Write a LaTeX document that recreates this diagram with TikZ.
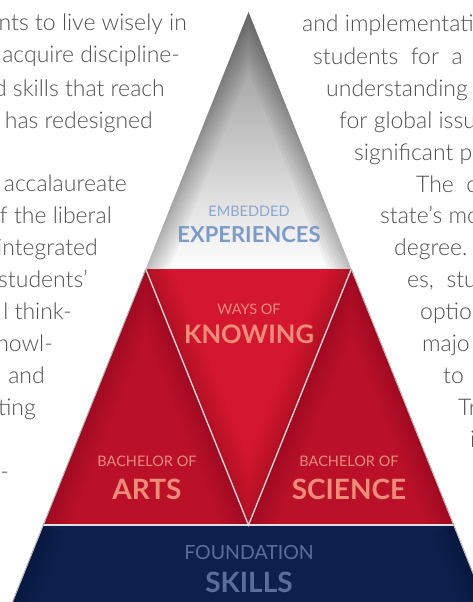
\documentclass[tikz,border=0pt]{standalone}
\usepackage{fontspec}
\setmainfont{Lato}
\newfontfamily\bodyfont{Lato Light}
\definecolor{bodytxt}{HTML}{505050}
\definecolor{knowred}{HTML}{D4172F}
\definecolor{sidered}{HTML}{BA1129}
\definecolor{shadowred}{HTML}{6A0412}
\definecolor{navy}{HTML}{0E1F4D}
\definecolor{navydark}{HTML}{061030}
\definecolor{salmon}{HTML}{EF8C79}
\definecolor{salmonlight}{HTML}{E98A7E}
\definecolor{skyblue}{HTML}{7D9BC8}
\definecolor{skybluelight}{HTML}{8CA7CF}
\definecolor{foundblue}{HTML}{5B6E9A}
\definecolor{seamgray}{HTML}{D2D2D2}
\tikzset{
  smalllabel/.style={font=\fontsize{14.5}{15}\selectfont, anchor=base, inner sep=0},
  biglabel/.style={font=\fontsize{28}{28}\selectfont\bfseries, anchor=base, inner sep=0},
  leftline/.style={font=\bodyfont\fontsize{23}{24}\selectfont, text=bodytxt, inner sep=0, anchor=base east},
  rightline/.style={font=\bodyfont\fontsize{23}{24}\selectfont, text=bodytxt, inner sep=0, anchor=base west},
  seam/.style={draw=seamgray, line width=1.4pt},
}
\begin{document}
\begin{tikzpicture}[x=1pt,y=-1pt]
\useasboundingbox (0,0) rectangle (473,602);
\clip (0,0) rectangle (473,602);
\fill[white] (0,0) rectangle (473,602);

% key points of the pyramid
\coordinate (apex) at (248.5,12);
\coordinate (tl) at (145.7,269);
\coordinate (tr) at (351.3,269);
\coordinate (ml) at (43.3,525);
\coordinate (mr) at (453.7,525);
\coordinate (vb) at (248.5,525);
\coordinate (bl) at (11.3,605);
\coordinate (br) at (485.7,605);

% top (embedded experiences) triangle
\shade[top color=black!45, bottom color=white] (apex) -- (tr) -- (tl) -- cycle;
\begin{scope}
  \clip (apex) -- (tr) -- (tl) -- cycle;
  \foreach \w in {44,38,32,26,20,14,9,4}
    \draw[black, opacity=0.035, line width=\w pt, line join=round] (tl) -- (apex) -- (tr);
\end{scope}

% knowing (inverted) triangle
\fill[knowred] (tl) -- (tr) -- (vb) -- cycle;
\begin{scope}
  \clip (tl) -- (tr) -- (vb) -- cycle;
  \foreach \w in {48,40,32,25,18,12,7,3}
    \draw[shadowred, opacity=0.045, line width=\w pt, line join=round] (tr) -- (vb) -- (tl);
\end{scope}

% arts triangle
\fill[sidered] (tl) -- (vb) -- (ml) -- cycle;
\begin{scope}
  \clip (tl) -- (vb) -- (ml) -- cycle;
  \foreach \w in {48,40,32,25,18,12,7,3}
    \draw[shadowred, opacity=0.045, line width=\w pt, line join=round] (ml) -- (tl) -- (vb);
\end{scope}

% science triangle
\fill[sidered] (tr) -- (mr) -- (vb) -- cycle;
\begin{scope}
  \clip (tr) -- (mr) -- (vb) -- cycle;
  \foreach \w in {48,40,32,25,18,12,7,3}
    \draw[shadowred, opacity=0.045, line width=\w pt, line join=round] (vb) -- (tr) -- (mr);
\end{scope}

% foundation band
\fill[navy] (ml) -- (mr) -- (br) -- (bl) -- cycle;
\begin{scope}
  \clip (ml) -- (mr) -- (br) -- (bl) -- cycle;
  \foreach \w in {48,40,32,25,18,12,7,3}
    \draw[navydark, opacity=0.05, line width=\w pt] (bl) -- (ml) (mr) -- (br);
\end{scope}

% seams
\draw[seam] (tl) -- (vb) -- (tr);
\draw[draw=white!88!black, line width=2.4pt] (ml) -- (mr);
\draw[draw=black!28, line width=1.1pt] (tl) -- (bl);
\draw[draw=black!28, line width=1.1pt] (tr) -- (br);

% labels
\node[smalllabel, text=skybluelight] (embedded) at (249,216) {EMBEDDED};
\node[biglabel, text=skyblue, font=\fontsize{22}{22}\selectfont\bfseries] (experiences) at (249,242) {EXPERIENCES};
\node[smalllabel, text=salmonlight] (waysof) at (249,314) {WAYS OF};
\node[biglabel, text=salmon, font=\fontsize{25.5}{26}\selectfont\bfseries] (knowing) at (249,343) {KNOWING};
\node[smalllabel, text=salmonlight] (bacharts) at (147,466) {BACHELOR OF};
\node[biglabel, text=salmon] (arts) at (147,499) {ARTS};
\node[smalllabel, text=salmonlight] (bachsci) at (349,466) {BACHELOR OF};
\node[biglabel, text=salmon] (science) at (349,499) {SCIENCE};
\node[smalllabel, text=foundblue, font=\fontsize{19.5}{20}\selectfont] (foundation) at (249,559) {FOUNDATION};
\node[biglabel, text=foundblue] (skills) at (249,592) {SKILLS};

% left column of text
\node[leftline] (l1) at (187,31) {nts to live wisely in};
\node[leftline] (l2) at (180,63) {acquire discipline-};
\node[leftline] (l3) at (165,96) {d skills that reach};
\node[leftline] (l4) at (153,128) {has redesigned};
\node[leftline] (l5) at (127,191) {accalaureate};
\node[leftline] (l6) at (112,223) {of the liberal};
\node[leftline] (l7) at (98,255) {integrated};
\node[leftline] (l8) at (88,287) {students’};
\node[leftline] (l9) at (72,319) {l think-};
\node[leftline] (l10) at (53,351) {knowl-};
\node[leftline] (l11) at (45,383) {and};
\node[leftline] (l12) at (36,415) {ting};
\node[leftline] (l13) at (9,479) {-};

% right column of text
\node[rightline] (r1) at (302,32) {and implementati};
\node[rightline] (r2) at (313,64) {students\ \ for\ \ a};
\node[rightline] (r3) at (326,96) {understanding};
\node[rightline] (r4) at (339,128) {for global issu};
\node[rightline] (r5) at (354,160) {significant p};
\node[rightline] (r6) at (416,192) {The\ \ c};
\node[rightline] (r7) at (380,223) {state’s mo};
\node[rightline] (r8) at (394,255) {degree.};
\node[rightline] (r9) at (407,287) {es,\ \ stu};
\node[rightline] (r10) at (420,319) {optio};
\node[rightline] (r11) at (422,351) {majo};
\node[rightline] (r12) at (443,383) {to};
\node[rightline] (r13) at (458,415) {Tr};
\node[rightline] (r14) at (470,447) {i};
\end{tikzpicture}
\end{document}
